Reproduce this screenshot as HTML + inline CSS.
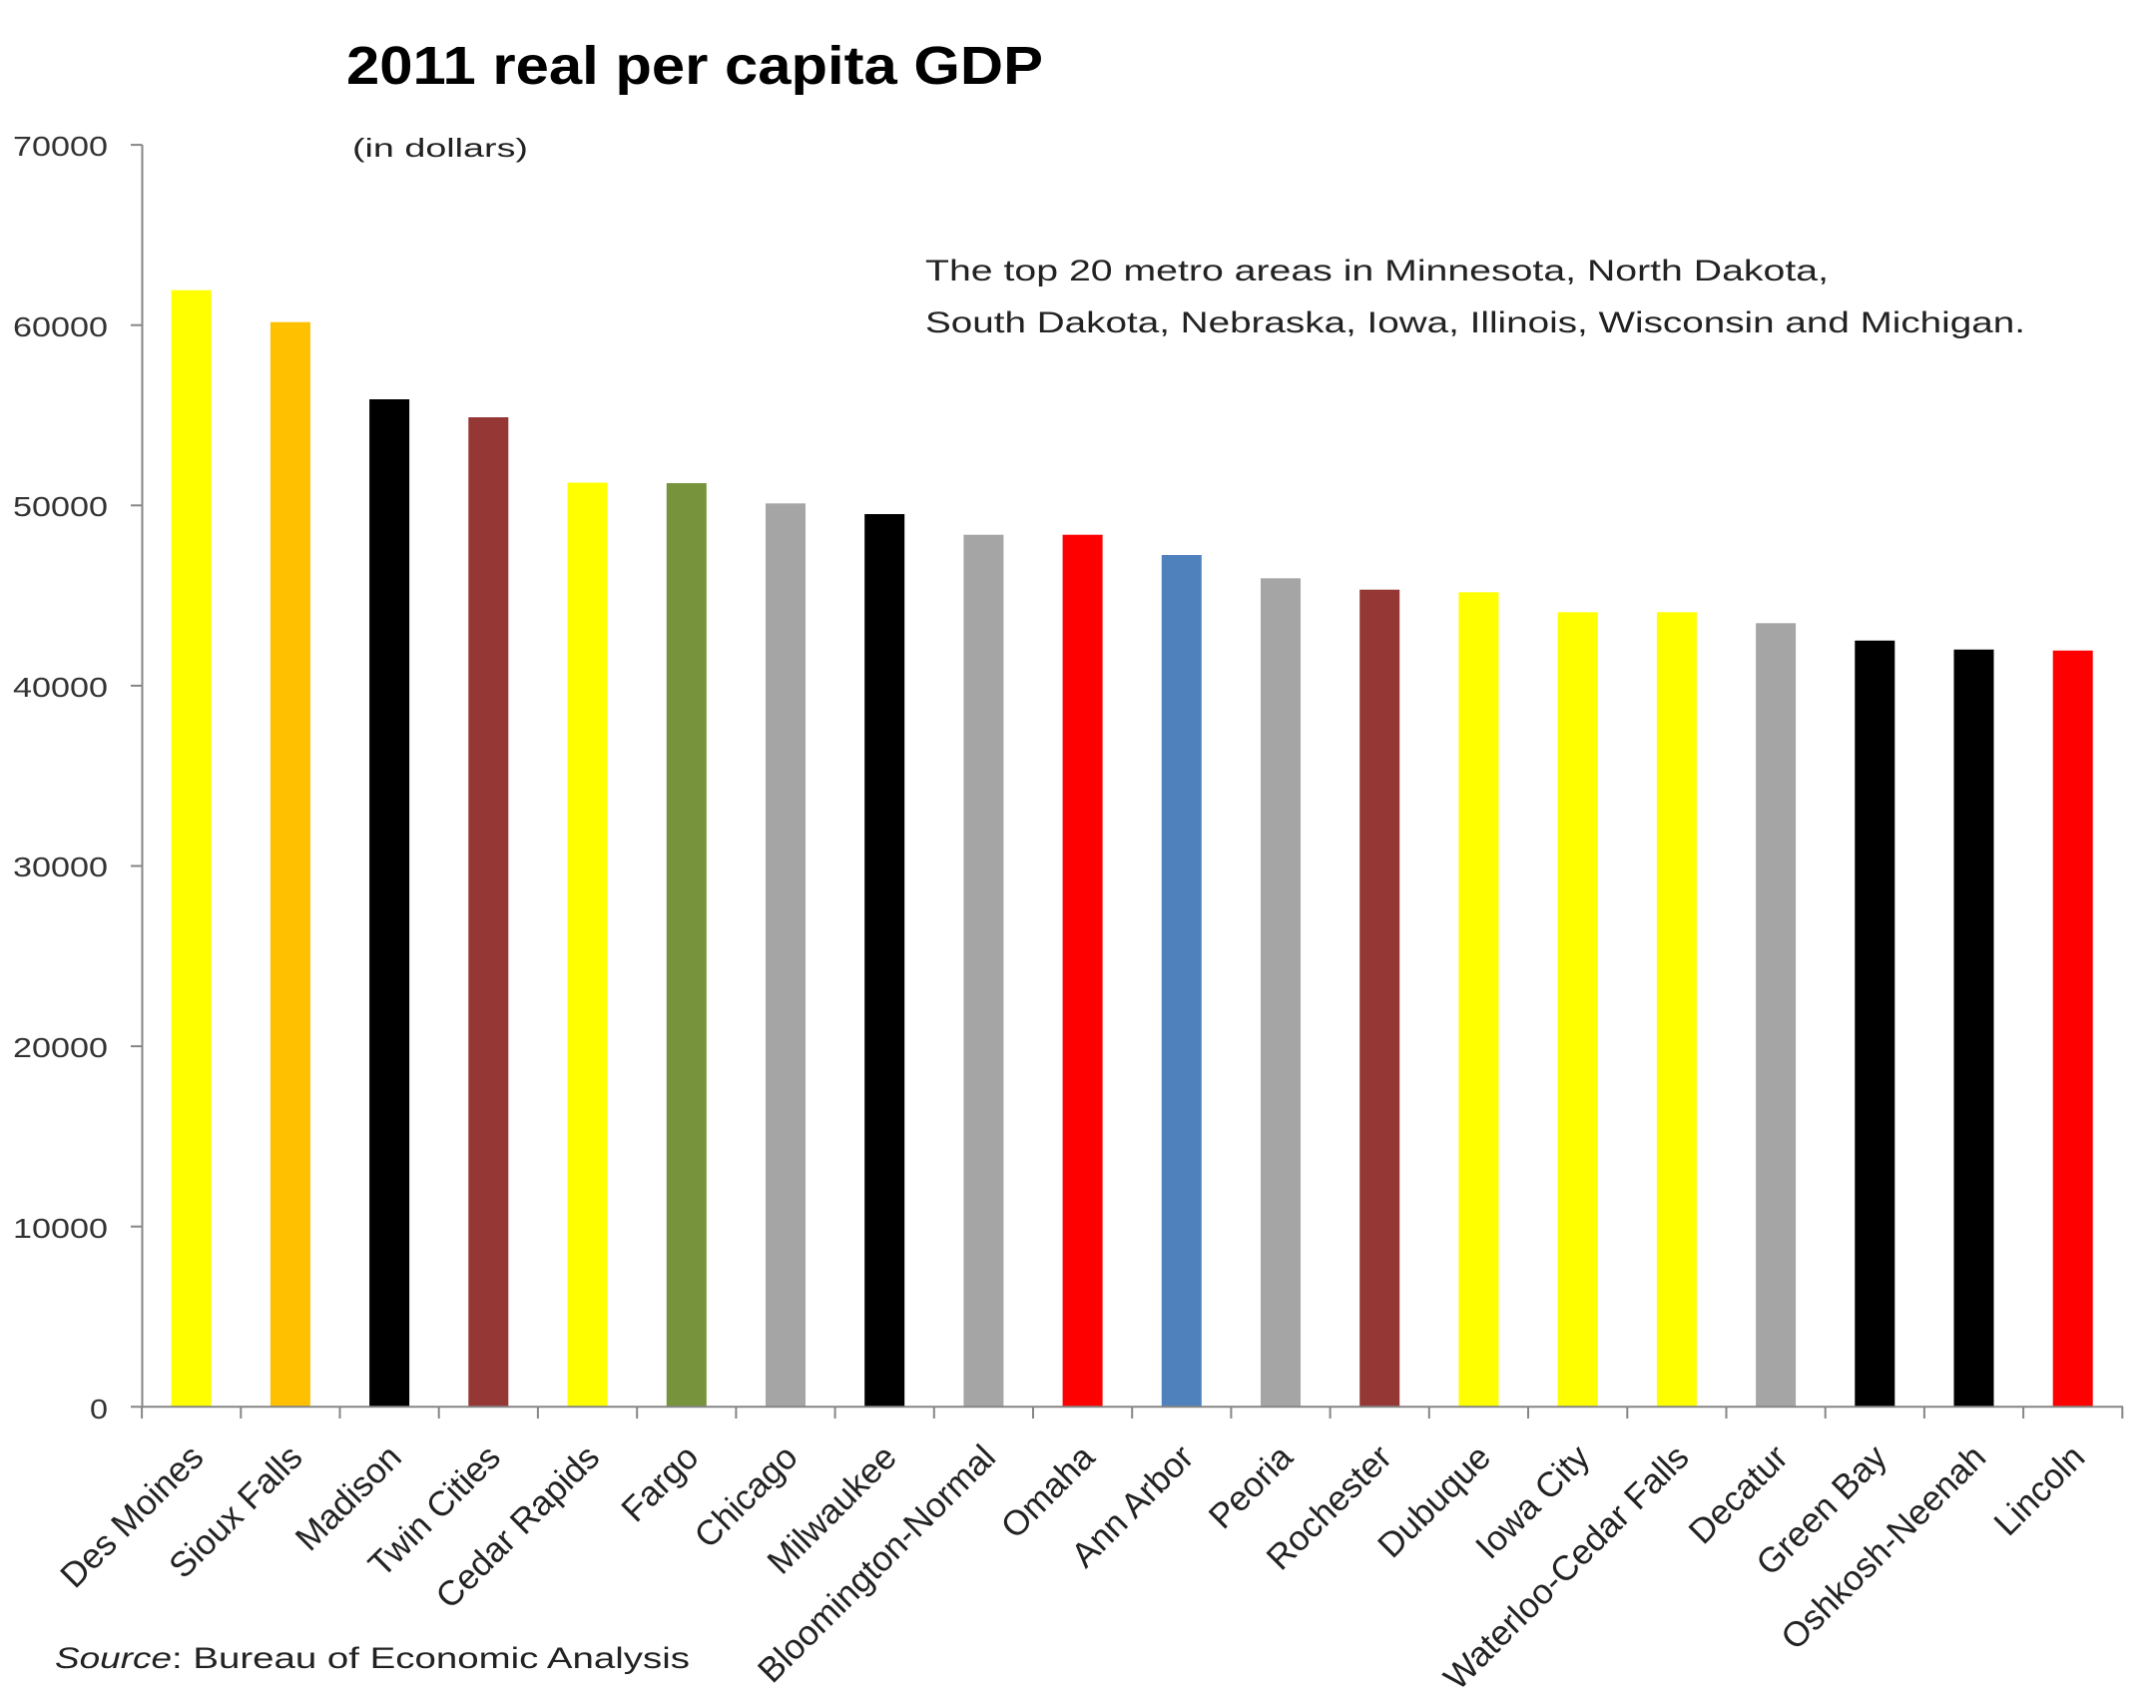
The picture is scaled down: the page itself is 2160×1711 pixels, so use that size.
<!DOCTYPE html>
<html><head><meta charset="utf-8"><style>
html,body{margin:0;padding:0;background:#fff;}
svg{display:block;}
text{font-family:"Liberation Sans",Arial,sans-serif;}
</style></head><body>
<svg width="2160" height="1711" viewBox="0 0 2160 1711" xmlns="http://www.w3.org/2000/svg">
<rect width="2160" height="1711" fill="#fff"/>
<!-- title -->
<text x="347" y="84" font-size="54" font-weight="bold" fill="#000" textLength="698" lengthAdjust="spacingAndGlyphs">2011 real per capita GDP</text>
<text x="353" y="157" font-size="26" fill="#222" textLength="176" lengthAdjust="spacingAndGlyphs">(in dollars)</text>
<!-- annotation -->
<text x="927" y="281" font-size="30" fill="#222" textLength="905" lengthAdjust="spacingAndGlyphs">The top 20 metro areas in Minnesota, North Dakota,</text>
<text x="927" y="333" font-size="30" fill="#222" textLength="1102" lengthAdjust="spacingAndGlyphs">South Dakota, Nebraska, Iowa, Illinois, Wisconsin and Michigan.</text>
<!-- source -->
<text x="55" y="1671" font-size="30" font-style="italic" fill="#222" textLength="117" lengthAdjust="spacingAndGlyphs">Source</text>
<text x="172" y="1671" font-size="30" fill="#222" textLength="519" lengthAdjust="spacingAndGlyphs">: Bureau of Economic Analysis</text>

<!-- y tick labels -->
<g font-size="28" fill="#333">
<text x="13" y="156" textLength="95" lengthAdjust="spacingAndGlyphs">70000</text>
<text x="13" y="337" textLength="95" lengthAdjust="spacingAndGlyphs">60000</text>
<text x="13" y="517" textLength="95" lengthAdjust="spacingAndGlyphs">50000</text>
<text x="13" y="698" textLength="95" lengthAdjust="spacingAndGlyphs">40000</text>
<text x="13" y="878" textLength="95" lengthAdjust="spacingAndGlyphs">30000</text>
<text x="13" y="1059" textLength="95" lengthAdjust="spacingAndGlyphs">20000</text>
<text x="13" y="1240" textLength="95" lengthAdjust="spacingAndGlyphs">10000</text>
<text x="90" y="1421" textLength="18" lengthAdjust="spacingAndGlyphs">0</text>
</g>

<!-- bars -->
<g>
<rect x="171.7" y="290.7" width="40" height="1118.6" fill="#FFFF00"/>
<rect x="270.9" y="322.7" width="40" height="1086.6" fill="#FFC000"/>
<rect x="370.1" y="400" width="40" height="1009.3" fill="#000000"/>
<rect x="469.3" y="418" width="40" height="991.3" fill="#953735"/>
<rect x="568.5" y="483.5" width="40" height="925.8" fill="#FFFF00"/>
<rect x="667.8" y="484" width="40" height="925.3" fill="#77933C"/>
<rect x="767.0" y="504.3" width="40" height="905" fill="#A5A5A5"/>
<rect x="866.2" y="515" width="40" height="894.3" fill="#000000"/>
<rect x="965.4" y="535.7" width="40" height="873.6" fill="#A5A5A5"/>
<rect x="1064.6" y="535.7" width="40" height="873.6" fill="#FF0000"/>
<rect x="1163.8" y="556" width="40" height="853.3" fill="#4F81BD"/>
<rect x="1263.0" y="579.3" width="40" height="830" fill="#A5A5A5"/>
<rect x="1362.2" y="590.7" width="40" height="818.6" fill="#953735"/>
<rect x="1461.4" y="593.3" width="40" height="816" fill="#FFFF00"/>
<rect x="1560.6" y="613.3" width="40" height="796" fill="#FFFF00"/>
<rect x="1659.9" y="613.3" width="40" height="796" fill="#FFFF00"/>
<rect x="1759.1" y="624.3" width="40" height="785" fill="#A5A5A5"/>
<rect x="1858.3" y="641.7" width="40" height="767.6" fill="#000000"/>
<rect x="1957.5" y="650.7" width="40" height="758.6" fill="#000000"/>
<rect x="2056.7" y="651.7" width="40" height="757.6" fill="#FF0000"/>
</g>

<!-- axes -->
<g stroke="#868686" stroke-width="2" fill="none">
<line x1="142.5" y1="145" x2="142.5" y2="1410"/>
<line x1="131" y1="1409.3" x2="2127" y2="1409.3"/>
<line x1="131" y1="145.1" x2="142.5" y2="145.1"/>
<line x1="131" y1="325.7" x2="142.5" y2="325.7"/>
<line x1="131" y1="506.3" x2="142.5" y2="506.3"/>
<line x1="131" y1="686.9" x2="142.5" y2="686.9"/>
<line x1="131" y1="867.5" x2="142.5" y2="867.5"/>
<line x1="131" y1="1048.1" x2="142.5" y2="1048.1"/>
<line x1="131" y1="1228.7" x2="142.5" y2="1228.7"/>
<line x1="142.1" y1="1409" x2="142.1" y2="1421"/>
<line x1="241.3" y1="1409" x2="241.3" y2="1421"/>
<line x1="340.5" y1="1409" x2="340.5" y2="1421"/>
<line x1="439.7" y1="1409" x2="439.7" y2="1421"/>
<line x1="538.9" y1="1409" x2="538.9" y2="1421"/>
<line x1="638.2" y1="1409" x2="638.2" y2="1421"/>
<line x1="737.4" y1="1409" x2="737.4" y2="1421"/>
<line x1="836.6" y1="1409" x2="836.6" y2="1421"/>
<line x1="935.8" y1="1409" x2="935.8" y2="1421"/>
<line x1="1035.0" y1="1409" x2="1035.0" y2="1421"/>
<line x1="1134.2" y1="1409" x2="1134.2" y2="1421"/>
<line x1="1233.4" y1="1409" x2="1233.4" y2="1421"/>
<line x1="1332.6" y1="1409" x2="1332.6" y2="1421"/>
<line x1="1431.8" y1="1409" x2="1431.8" y2="1421"/>
<line x1="1531.0" y1="1409" x2="1531.0" y2="1421"/>
<line x1="1630.3" y1="1409" x2="1630.3" y2="1421"/>
<line x1="1729.5" y1="1409" x2="1729.5" y2="1421"/>
<line x1="1828.7" y1="1409" x2="1828.7" y2="1421"/>
<line x1="1927.9" y1="1409" x2="1927.9" y2="1421"/>
<line x1="2027.1" y1="1409" x2="2027.1" y2="1421"/>
<line x1="2126.3" y1="1409" x2="2126.3" y2="1421"/>
</g>

<!-- x labels -->
<g font-size="35" fill="#222" text-anchor="end">
<text transform="translate(205.7,1462) rotate(-45)">Des Moines</text>
<text transform="translate(304.9,1462) rotate(-45)">Sioux Falls</text>
<text transform="translate(404.1,1462) rotate(-45)">Madison</text>
<text transform="translate(503.3,1462) rotate(-45)">Twin Cities</text>
<text transform="translate(602.5,1462) rotate(-45)">Cedar Rapids</text>
<text transform="translate(701.8,1462) rotate(-45)">Fargo</text>
<text transform="translate(801.0,1462) rotate(-45)">Chicago</text>
<text transform="translate(900.2,1462) rotate(-45)">Milwaukee</text>
<text transform="translate(999.4,1462) rotate(-45)">Bloomington-Normal</text>
<text transform="translate(1098.6,1462) rotate(-45)">Omaha</text>
<text transform="translate(1197.8,1462) rotate(-45)">Ann Arbor</text>
<text transform="translate(1297.0,1462) rotate(-45)">Peoria</text>
<text transform="translate(1396.2,1462) rotate(-45)">Rochester</text>
<text transform="translate(1495.4,1462) rotate(-45)">Dubuque</text>
<text transform="translate(1594.6,1462) rotate(-45)">Iowa City</text>
<text transform="translate(1693.9,1462) rotate(-45)">Waterloo-Cedar Falls</text>
<text transform="translate(1793.1,1462) rotate(-45)">Decatur</text>
<text transform="translate(1892.3,1462) rotate(-45)">Green Bay</text>
<text transform="translate(1991.5,1462) rotate(-45)">Oshkosh-Neenah</text>
<text transform="translate(2090.7,1462) rotate(-45)">Lincoln</text>
</g>
</svg>
</body></html>
